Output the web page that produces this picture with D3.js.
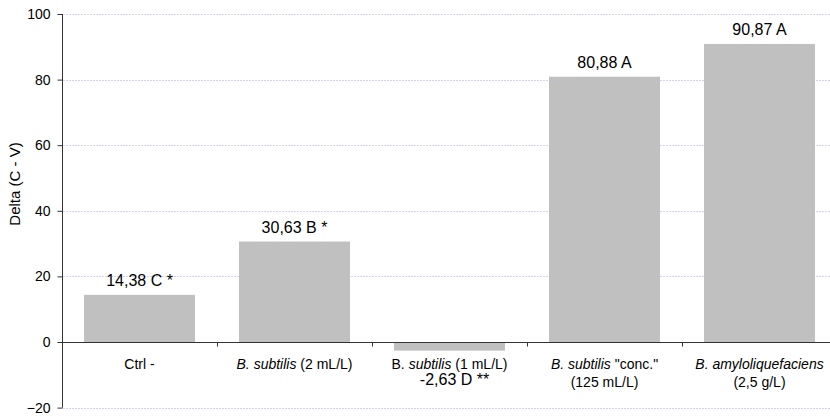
<!DOCTYPE html>
<html><head><meta charset="utf-8">
<script src="https://cdn.jsdelivr.net/npm/d3@7"></script>
<style>
html,body{margin:0;padding:0;background:#fff;}
svg{display:block;font-family:"Liberation Sans",Arial,sans-serif;}
</style></head>
<body>
<svg id="chart" width="830" height="417"></svg>
<script>
// Data
const categories = ["Ctrl -", "B. subtilis (2 mL/L)", "B. subtilis (1 mL/L)", "B. subtilis \"conc.\" (125 mL/L)", "B. amyloliquefaciens (2,5 g/L)"];
// Category label parts: [text, italic] per line
const categoryLines = [
  [[["Ctrl -", false]]],
  [[["B. subtilis", true], [" (2 mL/L)", false]]],
  [[["B. ", false], ["subtilis", true], [" (1 mL/L)", false]]],
  [[["B. subtilis", true], [" \"conc.\"", false]], [["(125 mL/L)", false]]],
  [[["B. amyloliquefaciens", true]], [["(2,5 g/L)", false]]]
];
const values = [14.38, 30.63, -2.63, 80.88, 90.87];
const valueLabels = ["14,38 C *", "30,63 B *", "-2,63 D **", "80,88 A", "90,87 A"];
const yTicks = [-20, 0, 20, 40, 60, 80, 100];
const yTitle = "Delta (C - V)";

const svg = d3.select("#chart");
const mLeft = 62, mRight = 837, mTop = 14, mBottom = 407.6;

const x = d3.scaleBand().domain(categories).range([mLeft, mRight])
  .paddingInner(0.284).paddingOuter(0.142);
const y = d3.scaleLinear().domain([-20, 100]).range([mBottom, mTop]);

// gridlines
svg.append("g").selectAll("line").data(yTicks.filter(d => d !== 0)).join("line")
  .attr("x1", mLeft + 1).attr("x2", mRight)
  .attr("y1", d => Math.round(y(d)) + 0.5).attr("y2", d => Math.round(y(d)) + 0.5)
  .attr("stroke", "#d2d2fa").attr("stroke-width", 1).attr("stroke-dasharray", "2,1");

// bars
svg.append("g").selectAll("rect").data(values).join("rect")
  .attr("x", (d, i) => x(categories[i]))
  .attr("width", x.bandwidth())
  .attr("y", d => y(Math.max(0, d)))
  .attr("height", d => Math.abs(y(d) - y(0)))
  .attr("fill", "#c0c0c0");

// y axis
const yAxis = d3.axisLeft(y).tickValues(yTicks).tickSize(5).tickPadding(7).tickFormat(d3.format("d"));
const ga = svg.append("g").attr("transform", `translate(${mLeft + 0.5},0)`).call(yAxis);
ga.attr("font-family", null).attr("font-size", null);
ga.select(".domain").attr("stroke", "#333").attr("d", `M0,${mTop}V${mBottom}`);
ga.selectAll(".tick line").attr("stroke", "#333");
ga.selectAll(".tick text").attr("font-size", "14px").attr("fill", "#000");

// x axis line at zero
const y0 = Math.round(y(0)) + 0.5;
const xAxis = d3.axisBottom(x).tickSize(0).tickFormat("");
const gx = svg.append("g").attr("transform", `translate(0,${y0})`).call(xAxis);
gx.select(".domain").attr("stroke", "#333").attr("d", `M${mLeft},0H${mRight}`);
// boundary ticks between categories
const step = x.step();
const bounds = categories.slice(1).map(c => x(c) - step * x.paddingInner() / 2);
gx.selectAll("line.bound").data(bounds).join("line").attr("class", "bound")
  .attr("x1", d => Math.round(d) + 0.5).attr("x2", d => Math.round(d) + 0.5)
  .attr("y1", 0).attr("y2", 4).attr("stroke", "#333");

// category labels
categoryLines.forEach((lines, i) => {
  const cx = x(categories[i]) + x.bandwidth() / 2;
  lines.forEach((parts, li) => {
    const t = svg.append("text").attr("x", cx).attr("y", 369 + li * 17.5)
      .attr("text-anchor", "middle").attr("font-size", "14px").attr("fill", "#000");
    parts.forEach(([s, it]) => {
      t.append("tspan").text(s).attr("font-style", it ? "italic" : "normal");
    });
  });
});

// value labels
svg.append("g").selectAll("text").data(values).join("text")
  .attr("x", (d, i) => x(categories[i]) + x.bandwidth() / 2 + (d < 0 ? 5 : 0))
  .attr("y", d => d >= 0 ? y(d) - 8.5 : y(d) + 34)
  .attr("text-anchor", "middle").attr("font-size", "16px").attr("fill", "#000")
  .text((d, i) => valueLabels[i]);

// y title
svg.append("text").attr("transform", `translate(20,184) rotate(-90)`)
  .attr("text-anchor", "middle").attr("font-size", "15px").attr("fill", "#000")
  .text(yTitle);
</script>
</body></html>
